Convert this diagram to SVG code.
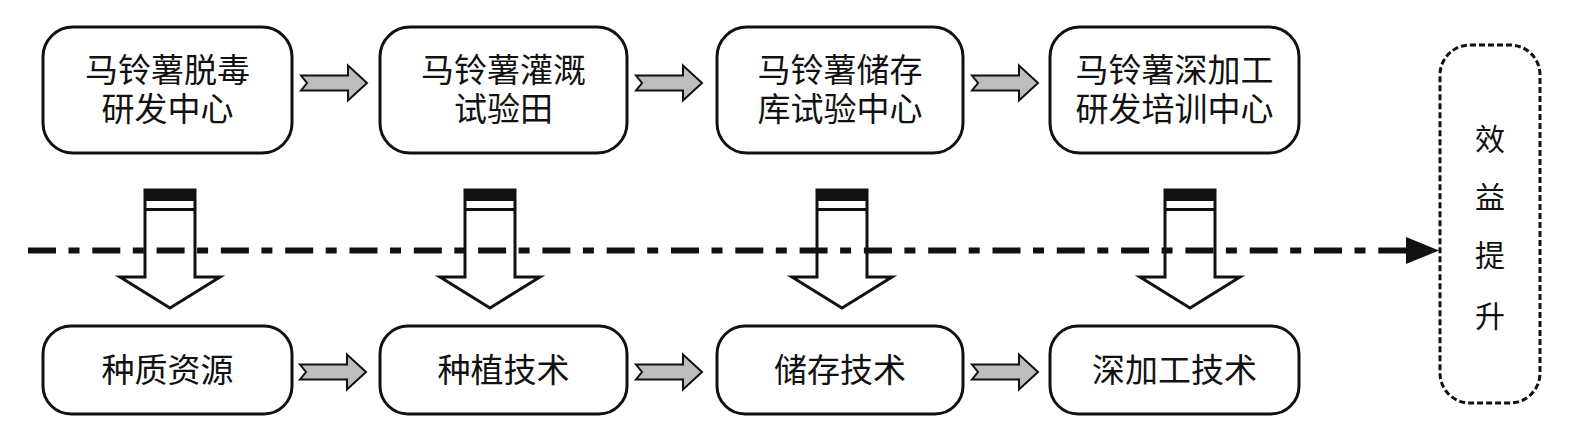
<svg xmlns="http://www.w3.org/2000/svg" width="1585" height="441" viewBox="0 0 1585 441">
<style>
.box{fill:#fff;stroke:#111;stroke-width:3}
.dbox{fill:#fff;stroke:#111;stroke-width:3;stroke-dasharray:6 3}
.t{font-family:"Liberation Sans","Noto Sans CJK SC",sans-serif;font-size:33px;fill:#111;text-anchor:middle}
.tv{font-family:"Liberation Sans","Noto Sans CJK SC",sans-serif;font-size:30px;fill:#111;text-anchor:middle}
.harr{fill:#bdbdbd;stroke:#111;stroke-width:2;stroke-linejoin:miter}
.varr{fill:none;stroke:#111;stroke-width:3;stroke-linejoin:miter}
.flow{stroke:#111;stroke-width:6;stroke-dasharray:28 12.5 11 12.8;fill:none}
</style>
<defs>
<path id="ha" d="M0,-7.5 L47,-7.5 L47,-17.5 L66,0 L47,17.5 L47,7.5 L0,7.5 L6,0 Z"/>
<g id="va">
<path class="varr" d="M-25,190 L25,190 L25,277 L50,277 L0,308 L-50,277 L-25,277 Z"/>
<rect x="-25" y="190" width="50" height="11" fill="#111"/>
<line x1="-25" y1="209.5" x2="25" y2="209.5" stroke="#111" stroke-width="3"/>
</g>
</defs>

<g id="n1">
<rect class="box" x="43" y="27" width="249" height="126" rx="30"/>
<text class="t" x="167.5" y="82">马铃薯脱毒<tspan x="167.5" dy="39">研发中心</tspan></text>
</g>
<g id="n2">
<rect class="box" x="380" y="27" width="247" height="126" rx="30"/>
<text class="t" x="503.5" y="82">马铃薯灌溉<tspan x="503.5" dy="39">试验田</tspan></text>
</g>
<g id="n3">
<rect class="box" x="717" y="27" width="246" height="126" rx="30"/>
<text class="t" x="840" y="82">马铃薯储存<tspan x="840" dy="39">库试验中心</tspan></text>
</g>
<g id="n4">
<rect class="box" x="1050" y="27" width="249" height="126" rx="30"/>
<text class="t" x="1174.5" y="82">马铃薯深加工<tspan x="1174.5" dy="39">研发培训中心</tspan></text>
</g>

<g id="b1">
<rect class="box" x="43" y="326" width="249" height="88" rx="28"/>
<text class="t" x="167.5" y="382">种质资源</text>
</g>
<g id="b2">
<rect class="box" x="380" y="326" width="247" height="88" rx="28"/>
<text class="t" x="503.5" y="382">种植技术</text>
</g>
<g id="b3">
<rect class="box" x="717" y="326" width="246" height="88" rx="28"/>
<text class="t" x="840" y="382">储存技术</text>
</g>
<g id="b4">
<rect class="box" x="1050" y="326" width="249" height="88" rx="28"/>
<text class="t" x="1174.5" y="382">深加工技术</text>
</g>

<g id="result">
<rect class="dbox" x="1440" y="45" width="100" height="358" rx="30"/>
<text class="tv" x="1490" y="150">效<tspan x="1490" dy="58">益</tspan><tspan x="1490" dy="58">提</tspan><tspan x="1490" dy="61">升</tspan></text>
</g>

<g id="connectors">
<use href="#ha" class="harr" x="301" y="83"/>
<use href="#ha" class="harr" x="636" y="83"/>
<use href="#ha" class="harr" x="972" y="83"/>
<use href="#ha" class="harr" x="300" y="372"/>
<use href="#ha" class="harr" x="636" y="372"/>
<use href="#ha" class="harr" x="972" y="372"/>
<use href="#va" x="170" y="0"/>
<use href="#va" x="490" y="0"/>
<use href="#va" x="842" y="0"/>
<use href="#va" x="1190" y="0"/>
<line class="flow" x1="28" y1="250.5" x2="1408" y2="250.5"/>
<polygon points="1406,237 1439,250.5 1406,264" fill="#111"/>
</g>
</svg>
